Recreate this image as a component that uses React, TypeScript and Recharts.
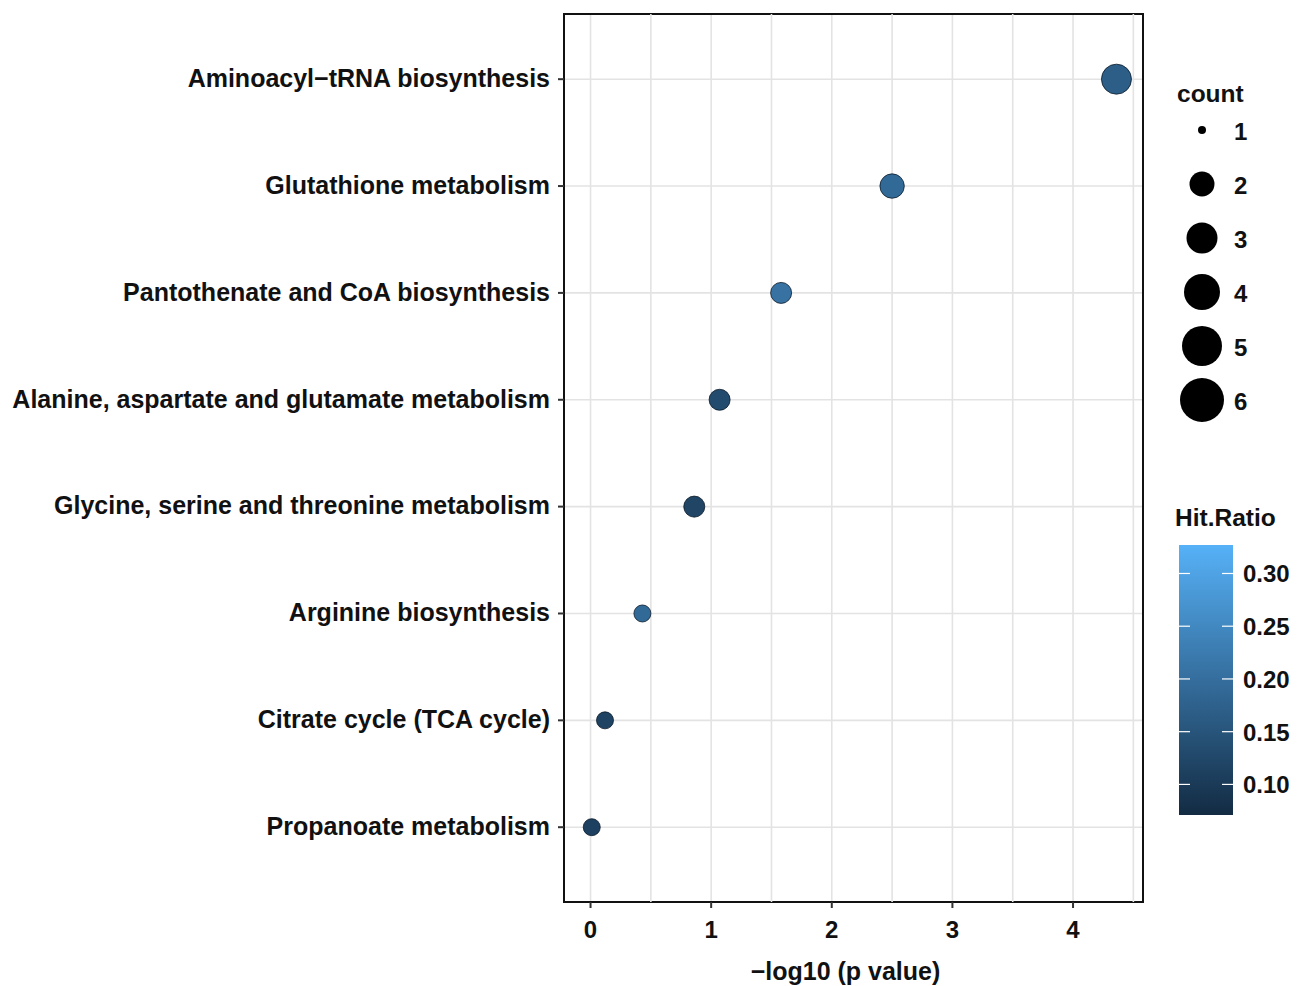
import React from 'react';
import {
  ScatterChart, Scatter, XAxis, YAxis, ZAxis, CartesianGrid, Cell, ReferenceArea, ReferenceLine,
} from 'recharts';

const pathways = [
  'Aminoacyl\u2212tRNA biosynthesis',
  'Glutathione metabolism',
  'Pantothenate and CoA biosynthesis',
  'Alanine, aspartate and glutamate metabolism',
  'Glycine, serine and threonine metabolism',
  'Arginine biosynthesis',
  'Citrate cycle (TCA cycle)',
  'Propanoate metabolism',
];
const negLogP = [4.36, 2.5, 1.58, 1.07, 0.86, 0.43, 0.12, 0.01];
const counts = [5, 3, 2, 2, 2, 1, 1, 1];
const hitRatio = [0.168, 0.191, 0.207, 0.132, 0.12, 0.191, 0.117, 0.112];

const xTicks = [0, 1, 2, 3, 4];
const xMinorGrid = [0.5, 1.5, 2.5, 3.5, 4.5];
const countLegend = [1, 2, 3, 4, 5, 6];
const countLegendDiam = [8, 25, 31, 36, 40, 44];
const ratioTicks = [0.1, 0.15, 0.2, 0.25, 0.3];
const ratioMin = 0.071;
const ratioMax = 0.327;

const LOW = [19, 43, 67];
const HIGH = [86, 177, 247];
function ratioColor(v: number) {
  const t = Math.max(0, Math.min(1, (v - ratioMin) / (ratioMax - ratioMin)));
  const c = LOW.map((l, i) => Math.round(l + (HIGH[i] - l) * t));
  return `rgb(${c[0]},${c[1]},${c[2]})`;
}

const n = pathways.length;
const rows = pathways.map((p, i) => ({
  name: p,
  x: negLogP[i],
  y: n - i,
  z: counts[i],
  ratio: hitRatio[i],
}));
const yTicks = rows.map((r) => r.y);

const FONT = '"Liberation Sans", Arial, Helvetica, sans-serif';
const X_DOMAIN: [number, number] = [-0.22, 4.58];
const Y_DOMAIN: [number, number] = [0.3, n + 0.61];

export default function App() {
  const barX = 1179, barY = 545, barW = 54, barH = 270;
  const ratioY = (v: number) => barY + barH - ((v - ratioMin) / (ratioMax - ratioMin)) * barH;
  return (
    <div style={{ position: 'fixed', left: 0, top: 0, width: 1303, height: 986, background: '#fff' }}>
      <ScatterChart width={1303} height={986} margin={{ top: 14, right: 160, bottom: 0, left: 0 }}>
        <CartesianGrid stroke="#e3e3e3" strokeWidth={1.6} />
        {xMinorGrid.map((v) => (
          <ReferenceLine key={v} x={v} stroke="#e3e3e3" strokeWidth={1.6} />
        ))}
        <XAxis
          type="number"
          dataKey="x"
          domain={X_DOMAIN}
          ticks={xTicks}
          allowDataOverflow
          height={84}
          axisLine={false}
          tickSize={6}
          tickMargin={13}
          tickLine={{ stroke: '#333', strokeWidth: 2 }}
          tick={{ fill: '#111', fontSize: 24, fontWeight: 'bold', fontFamily: FONT }}
          label={{
            value: '\u2212log10 (p value)',
            position: 'insideBottom',
            offset: 6,
            dx: -8,
            style: { fill: '#111', fontSize: 25, fontWeight: 'bold', fontFamily: FONT },
          }}
        />
        <YAxis
          type="number"
          dataKey="y"
          domain={Y_DOMAIN}
          ticks={yTicks}
          allowDataOverflow
          width={564}
          axisLine={false}
          tickSize={6}
          tickMargin={8}
          tickLine={{ stroke: '#333', strokeWidth: 2 }}
          tickFormatter={(v: number) => pathways[n - v] ?? ''}
          tick={{ fill: '#111', fontSize: 25, fontWeight: 'bold', fontFamily: FONT, dy: -1 }}
        />
        <ZAxis type="number" dataKey="z" domain={[1, 5]} range={[227, 707]} />
        <Scatter data={rows} isAnimationActive={false} stroke="#0d1a2a" strokeWidth={0.8}>
          {rows.map((r) => (
            <Cell key={r.name} fill={ratioColor(r.ratio)} />
          ))}
        </Scatter>
        <ReferenceArea
          x1={X_DOMAIN[0]}
          x2={X_DOMAIN[1]}
          y1={Y_DOMAIN[0]}
          y2={Y_DOMAIN[1]}
          fill="none"
          stroke="#111"
          strokeWidth={2}
          ifOverflow="visible"
        />
      </ScatterChart>
      <svg
        width={1303}
        height={986}
        style={{ position: 'absolute', left: 0, top: 0, pointerEvents: 'none' }}
        fontFamily={FONT}
        fontWeight="bold"
      >
        <defs>
          <linearGradient id="hitGrad" x1="0" y1="1" x2="0" y2="0">
            <stop offset="0%" stopColor="rgb(19,43,67)" />
            <stop offset="100%" stopColor="rgb(86,177,247)" />
          </linearGradient>
        </defs>
        <text x={1177} y={102} fontSize={24.5} fill="#111">count</text>
        {countLegend.map((c, i) => (
          <g key={c}>
            <circle cx={1202} cy={130 + i * 54} r={countLegendDiam[i] / 2} fill="#000" />
            <text x={1234} y={131 + i * 54 + 9} fontSize={24} fill="#111">{c}</text>
          </g>
        ))}
        <text x={1175} y={526} fontSize={24.5} fill="#111">Hit.Ratio</text>
        <rect x={barX} y={barY} width={barW} height={barH} fill="url(#hitGrad)" />
        {ratioTicks.map((v) => (
          <g key={v}>
            <line x1={barX} x2={barX + 11} y1={ratioY(v)} y2={ratioY(v)} stroke="#fff" strokeWidth={1.2} />
            <line x1={barX + barW - 11} x2={barX + barW} y1={ratioY(v)} y2={ratioY(v)} stroke="#fff" strokeWidth={1.2} />
            <text x={1243} y={ratioY(v) + 9} fontSize={24} fill="#111">{v.toFixed(2)}</text>
          </g>
        ))}
      </svg>
    </div>
  );
}
